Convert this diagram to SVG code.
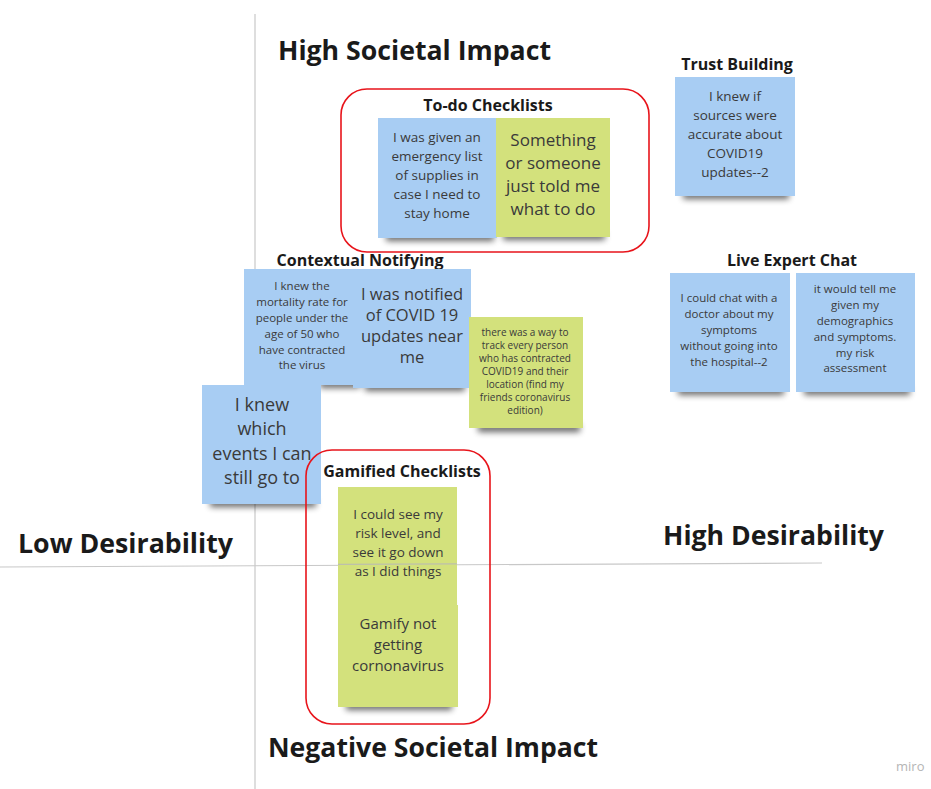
<svg xmlns="http://www.w3.org/2000/svg" width="931" height="789" viewBox="0 0 931 789">
<defs>
<filter id="sh" x="-20%" y="-100%" width="140%" height="300%"><feGaussianBlur stdDeviation="3"/></filter>
</defs>
<style>
.ax{stroke:#c8c8c8;stroke-width:1.2;fill:none}
.big{font-family:"Open Sans","Liberation Sans",sans-serif;font-weight:700;font-size:26px;fill:#1a1a1a}
.ttl{font-family:"Open Sans","Liberation Sans",sans-serif;font-weight:700;font-size:16px;fill:#1a1a1a;text-anchor:middle}
.t{font-family:"Open Sans","Liberation Sans",sans-serif;fill:#3a3a3a;text-anchor:middle}
.blue{fill:#a8cdf3}
.green{fill:#d3e17c}
.shd{fill:#000;opacity:0.6;filter:url(#sh)}
.grp{fill:none;stroke:#e8141b;stroke-width:1.6}
</style>
<rect width="931" height="789" fill="#fff"/>
<g id="axes">
<line class="ax" x1="255" y1="14" x2="255" y2="789"/>
<line class="ax" x1="0" y1="567" x2="822" y2="563"/>
</g>
<g id="labels">
<text class="big" x="278" y="60" textLength="273" lengthAdjust="spacingAndGlyphs">High Societal Impact</text>
<text class="big" x="18" y="553" textLength="215" lengthAdjust="spacingAndGlyphs">Low Desirability</text>
<text class="big" x="663" y="545" textLength="221" lengthAdjust="spacingAndGlyphs">High Desirability</text>
<text class="big" x="268" y="757" textLength="330" lengthAdjust="spacingAndGlyphs">Negative Societal Impact</text>
<text x="896" y="771" style="font-family:'Open Sans','Liberation Sans',sans-serif;font-size:13px;fill:#b5b5b5">miro</text>
</g>
<g id="connectors"></g>
<g id="todo">
<rect class="grp" x="341" y="89" width="308" height="163" rx="26"/>
<text class="ttl" x="488" y="111">To-do Checklists</text>
<rect class="shd" x="386" y="233" width="108" height="8"/>
<rect class="shd" x="503" y="232" width="102" height="8"/>
<rect class="blue" x="378" y="118" width="119" height="120"/>
<rect class="green" x="496" y="118" width="114" height="119"/>
<g class="t" style="font-size:13.5px">
<text x="437" y="142">I was given an</text>
<text x="437" y="161">emergency list</text>
<text x="437" y="180">of supplies in</text>
<text x="437" y="199">case I need to</text>
<text x="437" y="218">stay home</text>
</g>
<g class="t" style="font-size:17px">
<text x="553" y="146">Something</text>
<text x="553" y="169">or someone</text>
<text x="553" y="192">just told me</text>
<text x="553" y="215">what to do</text>
</g>
</g>
<g id="trust">
<text class="ttl" x="737" y="70">Trust Building</text>
<rect class="shd" x="683" y="191" width="106" height="8"/>
<rect class="blue" x="675" y="77" width="120" height="119"/>
<g class="t" style="font-size:13.5px">
<text x="735" y="101">I knew if</text>
<text x="735" y="120">sources were</text>
<text x="735" y="139">accurate about</text>
<text x="735" y="158">COVID19</text>
<text x="735" y="177">updates--2</text>
</g>
</g>
<g id="contextual">
<text class="ttl" x="360" y="266">Contextual Notifying</text>
<rect class="shd" x="320" y="380" width="40" height="8"/>
<rect class="shd" x="365" y="383" width="100" height="8"/>
<rect class="blue" x="244" y="269" width="110" height="116"/>
<rect class="blue" x="353" y="269" width="118" height="119"/>
<g class="t" style="font-size:11.5px">
<text x="302" y="290">I knew the</text>
<text x="302" y="306">mortality rate for</text>
<text x="302" y="322">people under the</text>
<text x="302" y="338">age of 50 who</text>
<text x="302" y="354">have contracted</text>
<text x="302" y="369">the virus</text>
</g>
<g class="t" style="font-size:16.5px">
<text x="412" y="300">I was notified</text>
<text x="412" y="321">of COVID 19</text>
<text x="412" y="342">updates near</text>
<text x="412" y="363">me</text>
</g>
<rect class="shd" x="478" y="424" width="102" height="8"/>
<rect class="green" x="469" y="317" width="114" height="111"/>
<g class="t" style="font-size:10px">
<text x="525" y="336">there was a way to</text>
<text x="525" y="349">track every person</text>
<text x="525" y="362">who has contracted</text>
<text x="525" y="375">COVID19 and their</text>
<text x="525" y="388">location (find my</text>
<text x="525" y="401">friends coronavirus</text>
<text x="525" y="414">edition)</text>
</g>
</g>
<g id="events">
<rect class="shd" x="210" y="499" width="106" height="8"/>
<rect class="blue" x="202" y="385" width="119" height="119"/>
<g class="t" style="font-size:18px">
<text x="262" y="411">I knew</text>
<text x="262" y="435">which</text>
<text x="262" y="460">events I can</text>
<text x="262" y="484">still go to</text>
</g>
</g>
<g id="live">
<text class="ttl" x="792" y="266">Live Expert Chat</text>
<rect class="shd" x="678" y="387" width="106" height="8"/>
<rect class="shd" x="804" y="387" width="106" height="8"/>
<rect class="blue" x="670" y="273" width="120" height="119"/>
<rect class="blue" x="796" y="273" width="119" height="119"/>
<g class="t" style="font-size:11.5px">
<text x="729" y="302">I could chat with a</text>
<text x="729" y="318">doctor about my</text>
<text x="729" y="334">symptoms</text>
<text x="729" y="350">without going into</text>
<text x="729" y="366">the hospital--2</text>
</g>
<g class="t" style="font-size:11.5px">
<text x="855" y="293">it would tell me</text>
<text x="855" y="309">given my</text>
<text x="855" y="325">demographics</text>
<text x="855" y="341">and symptoms.</text>
<text x="855" y="357">my risk</text>
<text x="855" y="372">assessment</text>
</g>
</g>
<g id="gamified">
<rect class="grp" x="306" y="450" width="184" height="274" rx="26"/>
<text class="ttl" x="402" y="477">Gamified Checklists</text>
<rect class="shd" x="346" y="601" width="106" height="8"/>
<rect class="shd" x="346" y="702" width="106" height="8"/>
<rect class="green" x="338" y="605" width="120" height="102"/>
<rect class="green" x="338" y="487" width="119" height="118"/>
<g class="t" style="font-size:13.5px">
<text x="398" y="519">I could see my</text>
<text x="398" y="538">risk level, and</text>
<text x="398" y="557">see it go down</text>
<text x="398" y="576">as I did things</text>
</g>
<line x1="338" y1="564.3" x2="457" y2="563.9" stroke="#b8b8b8" stroke-width="1"/>
<g class="t" style="font-size:15px">
<text x="398" y="629">Gamify not</text>
<text x="398" y="650">getting</text>
<text x="398" y="671">cornonavirus</text>
</g>
</g>
</svg>
